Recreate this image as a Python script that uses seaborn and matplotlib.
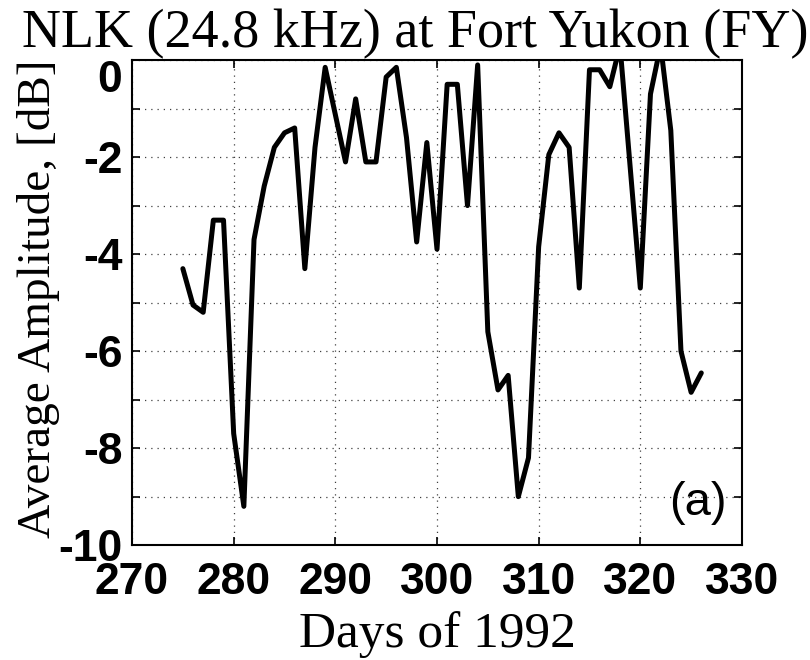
import numpy as np
import pandas as pd
import matplotlib
matplotlib.use("Agg")
import matplotlib.pyplot as plt
from matplotlib.ticker import MultipleLocator
import seaborn as sns

# NLK signal amplitude
days = [275, 276, 277, 278, 279, 280, 281, 282, 283, 284, 285, 286, 287, 288,
        289, 291, 292, 293, 294, 295, 296, 297, 298, 299, 300, 301, 302, 303,
        304, 305, 306, 307, 308, 309, 310, 311, 312, 313, 314, 315, 316, 317,
        318, 320, 321, 322, 323, 324, 325, 326]
amplitude = [-4.3, -5.05, -5.2, -3.3, -3.3, -7.7, -9.2, -3.7, -2.6, -1.8,
             -1.5, -1.4, -4.3, -1.8, -0.15, -2.1, -0.8, -2.1, -2.1, -0.35,
             -0.15, -1.6, -3.75, -1.7, -3.9, -0.5, -0.5, -3.0, -0.1, -5.6,
             -6.8, -6.5, -9.0, -8.2, -3.85, -1.95, -1.5, -1.8, -4.7, -0.2,
             -0.2, -0.55, 0.3, -4.7, -0.7, 0.3, -1.45, -6.0, -6.85, -6.45]

x_ticks = [270, 280, 290, 300, 310, 320, 330]
y_ticks = [0, -2, -4, -6, -8, -10]

df = pd.DataFrame({"day": days, "amp": amplitude})

sns.set_style("ticks")
plt.rcParams['font.family'] = ['Liberation Sans', 'DejaVu Sans']
plt.rcParams['axes.unicode_minus'] = False
plt.rcParams['text.color'] = 'black'
plt.rcParams['axes.labelcolor'] = 'black'
serif = ['Liberation Serif', 'DejaVu Serif']

fig, ax = plt.subplots(figsize=(8.1, 6.6), dpi=100)
fig.subplots_adjust(left=0.163, right=0.916, bottom=0.174, top=0.909)

sns.lineplot(data=df, x="day", y="amp", ax=ax, color="black", linewidth=3.6)

ax.set_xlim(270, 330)
ax.set_ylim(-10, 0)
ax.set_xticks(x_ticks)
ax.set_yticks(y_ticks)
ax.yaxis.set_minor_locator(MultipleLocator(1))

# dotted grid, MATLAB style
grid_kw = dict(color="0.25", linestyle=(0, (1, 4)), linewidth=0.9)
ax.grid(True, which="major", axis="x", **grid_kw)
ax.grid(True, which="both", axis="y", **grid_kw)

for s in ax.spines.values():
    s.set_linewidth(1.5)
    s.set_color("black")

ax.tick_params(which="both", direction="in", top=True, right=True,
               width=1.2, length=6, colors="black")
ax.tick_params(axis="x", labelsize=32, pad=12)
ax.tick_params(axis="y", labelsize=32, pad=7)
fig.canvas.draw()
for lab in ax.get_xticklabels() + ax.get_yticklabels():
    lab.set_fontweight("bold")
# top label sits below the tick, like the original
ax.get_yticklabels()[0].set_verticalalignment("top")

ax.set_xlabel("Days of 1992", fontsize=37, family=serif, labelpad=6)
ax.set_ylabel("Average Amplitude, [dB]", fontsize=34, family=serif)
ax.yaxis.set_label_coords(-0.118, 0.507)
ax.set_title("NLK (24.8 kHz) at Fort Yukon (FY)", fontsize=39, family=serif,
             pad=9, x=0.464)

ax.text(0.928, 0.086, "(a)", transform=ax.transAxes, fontsize=34,
        ha="center", va="center")

fig.savefig("out.png", dpi=100)
